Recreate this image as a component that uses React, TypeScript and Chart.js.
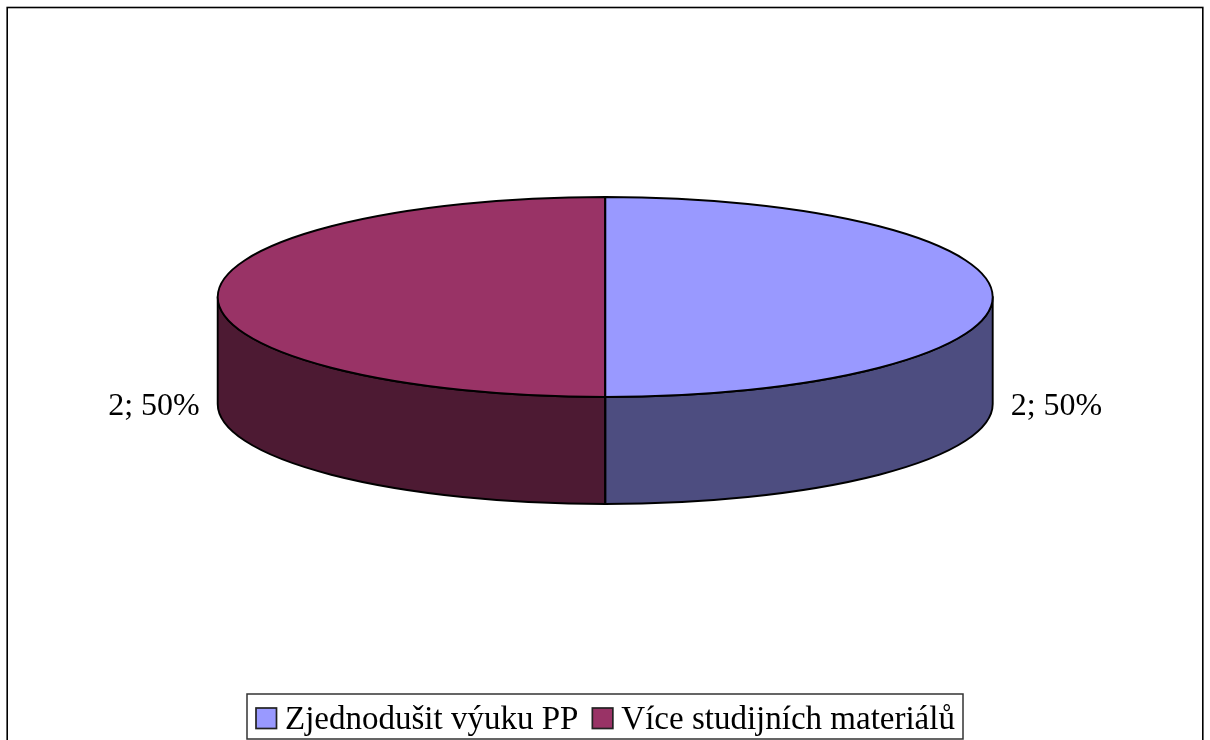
import React, { useEffect, useRef } from "react";
import { Chart, registerables } from "chart.js";

Chart.register(...registerables);

const categories = ["Zjednodušit výuku PP", "Více studijních materiálů"];
const values = [2, 2];
const topColors = ["#9999FF", "#993366"];
const sideColors = ["#4D4D80", "#4D1A33"];

const FONT = '"Liberation Serif", "Times New Roman", serif';
const PIE_BOX = { left: 217.7, right: 992.7, top: 197, bottom: 397 };
const DEPTH = 107;
const LABEL_GAP = 18;
const LEGEND_BOX = { left: 247, top: 694, right: 963, bottom: 739 };
const LEGEND_PAD = 14;
const SWATCH = 20.5;
const OUTLINE = 1.9;

const pie3d = {
  id: "pie3d",
  afterLayout(chart: any) {
    const ca = chart.chartArea;
    ca.left = PIE_BOX.left;
    ca.right = PIE_BOX.right;
    ca.top = PIE_BOX.top;
    ca.bottom = PIE_BOX.bottom;
    ca.width = ca.right - ca.left;
    ca.height = ca.bottom - ca.top;
    const lg = chart.legend;
    lg.left = LEGEND_BOX.left + 9 - LEGEND_PAD;
    lg.right = LEGEND_BOX.right + 40;
    lg.top = 690;
    lg.bottom = 762;
  },
  beforeDraw(chart: any) {
    const { ctx } = chart;
    ctx.save();
    ctx.fillStyle = "#fff";
    ctx.fillRect(0, 0, chart.width, chart.height);
    ctx.strokeStyle = "#000";
    ctx.lineWidth = 1.6;
    ctx.strokeRect(7.2, 7.5, 1195.6, 800);
    ctx.restore();
  },
  beforeDatasetsDraw(chart: any) {
    const { ctx, chartArea: ca } = chart;
    const sx = ca.width / ca.height;
    ctx.save();
    ctx.lineWidth = OUTLINE;
    ctx.strokeStyle = "#000";
    ctx.lineJoin = "round";
    chart.getDatasetMeta(0).data.forEach((arc: any, i: number) => {
      const a0 = Math.max(arc.startAngle, 0);
      const a1 = Math.min(arc.endAngle, Math.PI);
      if (a1 <= a0) return;
      const rx = arc.outerRadius * sx;
      const ry = arc.outerRadius;
      ctx.beginPath();
      ctx.ellipse(arc.x, arc.y, rx, ry, 0, a0, a1);
      ctx.ellipse(arc.x, arc.y + DEPTH, rx, ry, 0, a1, a0, true);
      ctx.closePath();
      ctx.fillStyle = sideColors[i];
      ctx.fill();
      ctx.stroke();
    });
    ctx.restore();
  },
  beforeDatasetDraw(chart: any) {
    const { ctx, chartArea: ca } = chart;
    const cx = (ca.left + ca.right) / 2;
    ctx.save();
    ctx.translate(cx, 0);
    ctx.scale(ca.width / ca.height, 1);
    ctx.translate(-cx, 0);
  },
  afterDatasetDraw(chart: any) {
    chart.ctx.restore();
  },
  afterDatasetsDraw(chart: any) {
    const { ctx, chartArea: ca } = chart;
    const sx = ca.width / ca.height;
    const data = chart.data.datasets[0].data as number[];
    const total = data.reduce((a, b) => a + b, 0);
    ctx.save();
    ctx.lineWidth = OUTLINE;
    ctx.strokeStyle = "#000";
    ctx.lineJoin = "round";
    chart.getDatasetMeta(0).data.forEach((arc: any, i: number) => {
      const rx = arc.outerRadius * sx;
      const ry = arc.outerRadius;
      ctx.beginPath();
      ctx.moveTo(arc.x, arc.y);
      ctx.ellipse(arc.x, arc.y, rx, ry, 0, arc.startAngle, arc.endAngle);
      ctx.closePath();
      ctx.stroke();
      const mid = (arc.startAngle + arc.endAngle) / 2;
      const c = Math.cos(mid);
      const s = Math.sin(mid);
      const x = arc.x + c * (rx + LABEL_GAP);
      const y = arc.y + s * ry + DEPTH;
      ctx.fillStyle = "#000";
      ctx.font = `32px ${FONT}`;
      ctx.textAlign = c >= 0 ? "left" : "right";
      ctx.textBaseline = "alphabetic";
      ctx.fillText(`${data[i]}; ${Math.round((data[i] / total) * 100)}%`, x, y + 11);
    });
    // wall edge below the slice boundary
    const first = chart.getDatasetMeta(0).data[0];
    ctx.beginPath();
    ctx.moveTo(first.x, first.y + first.outerRadius);
    ctx.lineTo(first.x, first.y + first.outerRadius + DEPTH);
    ctx.stroke();
    ctx.restore();
  },
  afterDraw(chart: any) {
    const { ctx, legend } = chart;
    ctx.save();
    ctx.strokeStyle = "#333";
    ctx.lineWidth = 1.5;
    ctx.strokeRect(
      LEGEND_BOX.left,
      LEGEND_BOX.top,
      LEGEND_BOX.right - LEGEND_BOX.left,
      LEGEND_BOX.bottom - LEGEND_BOX.top
    );
    let x = legend.left + LEGEND_PAD;
    legend.legendItems.forEach((item: any, i: number) => {
      ctx.fillStyle = topColors[i];
      ctx.strokeStyle = "#222";
      ctx.lineWidth = 1.7;
      ctx.fillRect(x, 708, SWATCH, SWATCH);
      ctx.strokeRect(x, 708, SWATCH, SWATCH);
      x += legend.legendHitBoxes[i].width + LEGEND_PAD;
    });
    ctx.restore();
  },
};

export default function App() {
  const ref = useRef<HTMLCanvasElement | null>(null);
  useEffect(() => {
    if (!ref.current) return;
    const chart = new Chart(ref.current, {
      type: "pie",
      data: {
        labels: categories,
        datasets: [
          {
            data: values,
            backgroundColor: topColors,
            borderWidth: 0,
            clip: false,
          } as any,
        ],
      },
      options: {
        responsive: false,
        animation: false,
        maintainAspectRatio: false,
        layout: { padding: 0 },
        plugins: {
          tooltip: { enabled: false },
          legend: {
            display: true,
            position: "bottom",
            align: "start",
            labels: {
              color: "#000",
              boxWidth: 12.5,
              boxHeight: 12,
              padding: LEGEND_PAD,
              font: { family: FONT, size: 33 },
            },
          },
        },
      },
      plugins: [pie3d],
    });
    return () => chart.destroy();
  }, []);
  return (
    <div style={{ position: "fixed", left: 0, top: 0, width: 1210, height: 740, background: "#fff" }}>
      <canvas ref={ref} width={1210} height={740} style={{ display: "block" }} />
    </div>
  );
}
